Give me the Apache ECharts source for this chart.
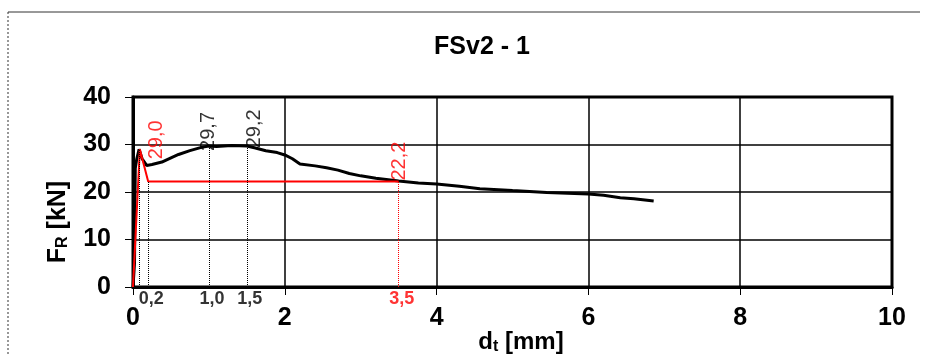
<!DOCTYPE html>
<html>
<head>
<meta charset="utf-8">
<script src="https://cdn.jsdelivr.net/npm/echarts@6/dist/echarts.min.js"></script>
<style>
  html, body { margin: 0; padding: 0; background: #fff; }
  #chart { width: 925px; height: 356px; }
</style>
</head>
<body>
<div id="chart"></div>
<script>
// measured curve: displacement d_t [mm] vs force F_R [kN]
const curveX = [0, 0.02, 0.03, 0.05, 0.08, 0.12, 0.18, 0.25, 0.38, 0.5, 0.6, 0.75, 0.9, 1.0, 1.1, 1.3, 1.5, 1.6, 1.75, 1.9, 2.0, 2.1, 2.2, 2.4, 2.55, 2.7, 2.85, 3.0, 3.2, 3.5, 3.76, 4.0, 4.3, 4.57, 5.0, 5.45, 6.0, 6.2, 6.42, 6.6, 6.86]
const curveY = [0, 5, 25, 27, 29.0, 27, 25.6, 25.8, 26.3, 27.2, 27.9, 28.7, 29.4, 29.7, 29.6, 29.8, 29.7, 29.3, 28.7, 28.3, 27.8, 27.0, 25.9, 25.5, 25.1, 24.6, 23.9, 23.4, 22.9, 22.3, 21.9, 21.7, 21.2, 20.7, 20.3, 19.9, 19.6, 19.3, 18.8, 18.6, 18.1]

// evaluation polyline (red)
const evalX = [0, 0.09, 0.2, 3.5]
const evalY = [0, 29.0, 22.2, 22.2]

// annotated values
const redPeaks = [[0.08, 29.0], [3.5, 22.2]]
const blackPeaks = [[1.0, 29.7], [1.5, 29.2]]
const blackDrops = [[0.08, 29.0], [0.2, 22.2], [1.0, 29.7], [1.5, 29.7]]
const redDrops = [[3.5, 22.2]]
const blackTicks = [0.2, 1.0, 1.5]
const redTicks = [3.5]

const xTicks = [0, 2, 4, 6, 8, 10]
const yTicks = [0, 10, 20, 30, 40]

const RED = '#ff0000'
const FONT = 'Liberation Sans, Arial, sans-serif'
const fmt = (v) => v.toFixed(1).replace('.', ',')

// label nudges (px) so the rotated numbers sit like in the original
const redNudge = [[17, 10], [1, -1]]
const blackNudge = [[0, 5], [8, 0]]

const dropLines = (pts) => pts.map(([x, y]) => [{ coord: [x, 0] }, { coord: [x, y] }])

const peakLabels = (pts, nudge, color) => pts.map(([x, y], i) => ({
  value: [x, y],
  label: {
    show: true, formatter: fmt(y), rotate: 90, align: 'left', verticalAlign: 'middle',
    position: nudge[i], color, fontFamily: FONT, fontSize: 20,
  },
}))

const tickLabels = (xs, color) => ({
  type: 'scatter', symbolSize: 0, silent: true, clip: false, z: 5,
  data: xs.map((x) => [x, 0]),
  label: {
    show: true, position: 'bottom', distance: 3, offset: [3, 0], formatter: (p) => fmt(p.value[0]),
    color, fontFamily: FONT, fontWeight: 'bold', fontSize: 18,
  },
})

const chart = echarts.init(document.getElementById('chart'))
chart.setOption({
  animation: false,
  title: {
    text: 'FSv2 - 1', left: 477, top: 30, textAlign: 'center',
    textStyle: { fontFamily: FONT, fontWeight: 'bold', fontSize: 25, color: '#000' },
  },
  grid: { left: 133, right: 33, top: 97, bottom: 69, show: true, borderColor: '#000', borderWidth: 3 },
  xAxis: {
    type: 'value', min: xTicks[0], max: xTicks[xTicks.length - 1], interval: 2,
    axisLine: { show: true, onZero: false, lineStyle: { color: '#000', width: 3 } },
    axisTick: { show: true, length: 8, lineStyle: { color: '#000', width: 1 } },
    axisLabel: { margin: 19, color: '#000', fontFamily: FONT, fontWeight: 'bold', fontSize: 25 },
    splitLine: { show: true, lineStyle: { color: '#000', width: 1.5 } },
  },
  yAxis: {
    type: 'value', min: yTicks[0], max: yTicks[yTicks.length - 1], interval: 10,
    axisLine: { show: true, lineStyle: { color: '#000', width: 3 } },
    axisTick: { show: true, length: 8, lineStyle: { color: '#000', width: 1 } },
    axisLabel: { margin: 22, color: '#000', fontFamily: FONT, fontWeight: 'bold', fontSize: 25 },
    splitLine: { show: true, lineStyle: { color: '#000', width: 1.5 } },
  },
  graphic: [
    { type: 'line', shape: { x1: 8, y1: 12, x2: 920, y2: 12 }, style: { stroke: '#333', lineWidth: 1 } },
    { type: 'line', shape: { x1: 8, y1: 12, x2: 8, y2: 356 }, style: { stroke: '#333', lineWidth: 1, lineDash: [2, 2] } },
    {
      type: 'text', x: 521, y: 342, style: {
        text: '{a|d}{s|t}{a| [mm]}', align: 'center', verticalAlign: 'middle',
        rich: {
          a: { fontFamily: FONT, fontWeight: 'bold', fontSize: 24, fill: '#000' },
          s: { fontFamily: FONT, fontWeight: 'bold', fontSize: 16, fill: '#000', padding: [10, 0, 0, 0] },
        },
      },
    },
    {
      type: 'text', x: 58, y: 222, rotation: Math.PI / 2, style: {
        text: '{a|F}{s|R}{a| [kN]}', align: 'center', verticalAlign: 'middle',
        rich: {
          a: { fontFamily: FONT, fontWeight: 'bold', fontSize: 25, fill: '#000' },
          s: { fontFamily: FONT, fontWeight: 'bold', fontSize: 16, fill: '#000', padding: [10, 0, 0, 0] },
        },
      },
    },
  ],
  series: [
    {
      type: 'line', showSymbol: false, silent: true, z: 3,
      data: curveX.map((x, i) => [x, curveY[i]]),
      lineStyle: { color: '#000', width: 3 },
      markLine: {
        silent: true, symbol: 'none', label: { show: false },
        lineStyle: { color: '#000', type: 'dotted', width: 1 },
        data: dropLines(blackDrops),
      },
    },
    {
      type: 'line', showSymbol: false, silent: true, z: 4,
      data: evalX.map((x, i) => [x, evalY[i]]),
      lineStyle: { color: RED, width: 2 },
      markLine: {
        silent: true, symbol: 'none', label: { show: false },
        lineStyle: { color: RED, type: 'dotted', width: 1 },
        data: dropLines(redDrops),
      },
    },
    { type: 'scatter', symbolSize: 0, silent: true, clip: false, z: 6, data: peakLabels(redPeaks, redNudge, RED) },
    { type: 'scatter', symbolSize: 0, silent: true, clip: false, z: 6, data: peakLabels(blackPeaks, blackNudge, '#000') },
    tickLabels(blackTicks, '#000'),
    tickLabels(redTicks, RED),
  ],
})
</script>
</body>
</html>
